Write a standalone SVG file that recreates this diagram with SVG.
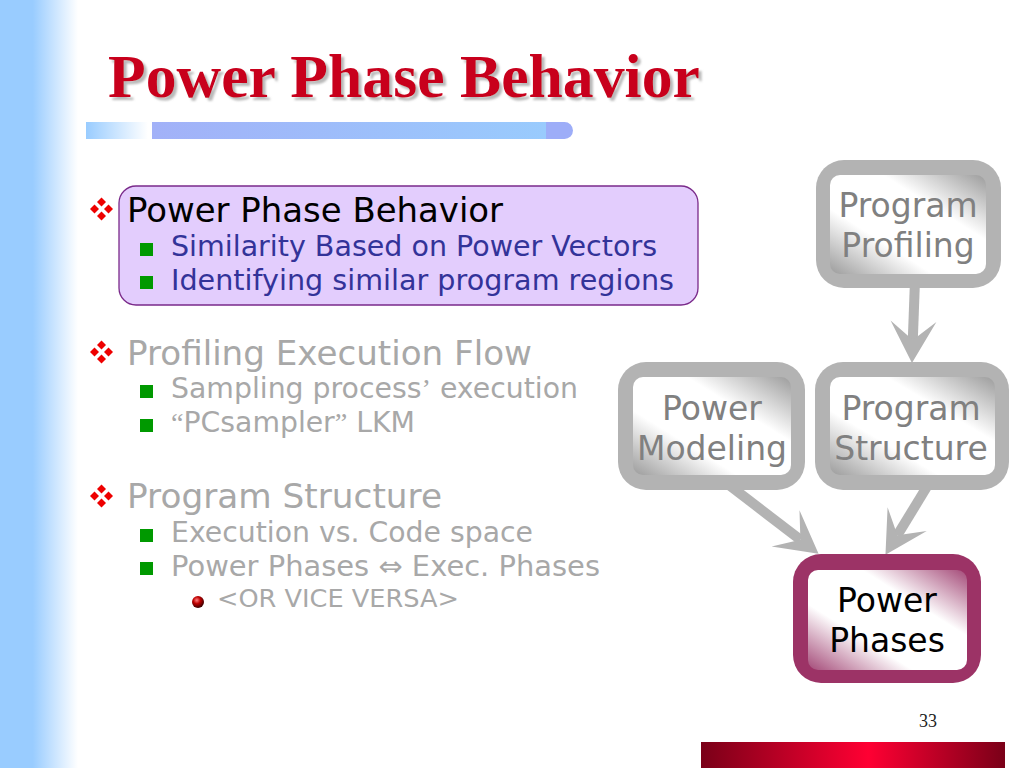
<svg xmlns="http://www.w3.org/2000/svg" width="1024" height="768" viewBox="0 0 1024 768">
<style>
.t1{font-family:"DejaVu Sans","Verdana",sans-serif;font-size:34px}
.t2{font-family:"DejaVu Sans","Verdana",sans-serif;font-size:28px}
.t3{font-family:"DejaVu Sans","Verdana",sans-serif;font-size:25px}
.q{font-family:"Liberation Serif",serif}
.blk{fill:#000}
.blu{fill:#333399}
.gry{fill:#a8a8a8}
.nt{font-family:"DejaVu Sans","Verdana",sans-serif;font-size:33px;text-anchor:middle}
.sq{fill:#009900}
.conn{stroke:#b3b3b3;stroke-width:10;fill:none}
</style>
<defs>
<filter id="shadow" x="-5%" y="-20%" width="110%" height="140%">
<feOffset in="SourceAlpha" dx="3" dy="3" result="o"/>
<feGaussianBlur in="o" stdDeviation="0.8" result="b"/>
<feFlood flood-color="#8a8a8a" flood-opacity="0.6"/>
<feComposite in2="b" operator="in" result="s"/>
<feMerge><feMergeNode in="s"/><feMergeNode in="SourceGraphic"/></feMerge>
</filter>
<linearGradient id="leftBar" x1="0" y1="0" x2="1" y2="0">
<stop offset="0" stop-color="#99ccff"/>
<stop offset="0.42" stop-color="#99ccff"/>
<stop offset="1" stop-color="#ffffff"/>
</linearGradient>
<linearGradient id="barL" x1="0" y1="0" x2="1" y2="0">
<stop offset="0" stop-color="#99ccff"/>
<stop offset="1" stop-color="#ffffff"/>
</linearGradient>
<linearGradient id="barM" x1="0" y1="0" x2="1" y2="0">
<stop offset="0" stop-color="#a2b1f8"/>
<stop offset="1" stop-color="#99cbfd"/>
</linearGradient>
<linearGradient id="redBar" x1="0" y1="0" x2="1" y2="0">
<stop offset="0" stop-color="#7a0018"/>
<stop offset="0.55" stop-color="#ff0033"/>
<stop offset="1" stop-color="#7a0018"/>
</linearGradient>
<linearGradient id="grayIn" x1="1" y1="0" x2="0" y2="1">
<stop offset="0" stop-color="#9c9c9c"/>
<stop offset="0.33" stop-color="#ffffff"/>
<stop offset="0.67" stop-color="#ffffff"/>
<stop offset="1" stop-color="#9c9c9c"/>
</linearGradient>
<linearGradient id="magIn" x1="1" y1="0" x2="0" y2="1">
<stop offset="0" stop-color="#a44a78"/>
<stop offset="0.33" stop-color="#ffffff"/>
<stop offset="0.67" stop-color="#ffffff"/>
<stop offset="1" stop-color="#a44a78"/>
</linearGradient>
<radialGradient id="ball" cx="0.4" cy="0.35" r="0.65">
<stop offset="0" stop-color="#ff8080"/>
<stop offset="0.45" stop-color="#c00000"/>
<stop offset="1" stop-color="#3a0000"/>
</radialGradient>
<g id="dia" fill="#ee0000">
<path d="M0,-11.5 L4.5,-7 L0,-2.5 L-4.5,-7Z"/>
<path d="M0,2.5 L4.5,7 L0,11.5 L-4.5,7Z"/>
<path d="M-11.5,0 L-7,-4.5 L-2.5,0 L-7,4.5Z"/>
<path d="M2.5,0 L7,-4.5 L11.5,0 L7,4.5Z"/>
</g>
<marker id="stealth" markerUnits="userSpaceOnUse" orient="auto" markerWidth="50" markerHeight="50" viewBox="-42 -24 44 48" refX="-22" refY="0">
<path d="M0,0 L-40,-22 L-22,0 L-40,22Z" fill="#b3b3b3"/>
</marker>
</defs>

<!-- background decoration -->
<rect x="0" y="0" width="1024" height="768" fill="#ffffff"/>
<rect x="0" y="0" width="78" height="768" fill="url(#leftBar)"/>
<rect x="86" y="122" width="62" height="17" fill="url(#barL)"/>
<rect x="152" y="122" width="396" height="17" fill="url(#barM)"/>
<path d="M546,122 H564.5 A8.5,8.5 0 0 1 564.5,139 H546Z" fill="#9dadf8"/>
<rect x="701" y="742" width="304" height="26" fill="url(#redBar)"/>

<!-- title -->
<g id="title" font-family="Liberation Serif, serif" font-weight="bold" font-size="61">
<text x="108" y="97" fill="#c8001e" filter="url(#shadow)" textLength="592" lengthAdjust="spacingAndGlyphs">Power Phase Behavior</text>
</g>

<!-- bullet list -->
<g id="bullets">
<rect x="119" y="186" width="579" height="119" rx="17" fill="#e3cdfd" stroke="#7a2a8a" stroke-width="1.3"/>
<use href="#dia" x="101.5" y="209"/>
<text class="t1 blk" x="127" y="222" textLength="376" lengthAdjust="spacingAndGlyphs">Power Phase Behavior</text>
<rect class="sq" x="140" y="243" width="13" height="13"/>
<text class="t2 blu" x="171" y="256" textLength="486" lengthAdjust="spacingAndGlyphs">Similarity Based on Power Vectors</text>
<rect class="sq" x="140" y="276" width="13" height="13"/>
<text class="t2 blu" x="171" y="290" textLength="503" lengthAdjust="spacingAndGlyphs">Identifying similar program regions</text>

<use href="#dia" x="101.5" y="352"/>
<text class="t1 gry" x="127" y="365" textLength="405" lengthAdjust="spacingAndGlyphs">Profiling Execution Flow</text>
<rect class="sq" x="140" y="385" width="13" height="13"/>
<text class="t2 gry" x="171" y="398" textLength="407" lengthAdjust="spacingAndGlyphs">Sampling process<tspan class="q">’</tspan> execution</text>
<rect class="sq" x="140" y="419" width="13" height="13"/>
<text class="t2 gry" x="171" y="432" textLength="244" lengthAdjust="spacingAndGlyphs"><tspan class="q">“</tspan>PCsampler<tspan class="q">”</tspan> LKM</text>

<use href="#dia" x="101.5" y="496"/>
<text class="t1 gry" x="127" y="508" textLength="315" lengthAdjust="spacingAndGlyphs">Program Structure</text>
<rect class="sq" x="140" y="529" width="13" height="13"/>
<text class="t2 gry" x="171" y="542" textLength="362" lengthAdjust="spacingAndGlyphs">Execution vs. Code space</text>
<rect class="sq" x="140" y="562" width="13" height="13"/>
<text class="t2 gry" x="171" y="576" textLength="429" lengthAdjust="spacingAndGlyphs">Power Phases ⇔ Exec. Phases</text>
<circle cx="198" cy="602" r="6" fill="url(#ball)"/>
<text class="t3 gry" x="217" y="607" textLength="242" lengthAdjust="spacingAndGlyphs">&lt;OR VICE VERSA&gt;</text>
</g>

<!-- connectors -->
<g id="connectors">
<line class="conn" x1="915" y1="280" x2="912.8" y2="340" marker-end="url(#stealth)"/>
<line class="conn" x1="729" y1="485" x2="800.4" y2="539.8" marker-end="url(#stealth)"/>
<line class="conn" x1="928" y1="485" x2="897.4" y2="535.2" marker-end="url(#stealth)"/>
</g>

<!-- nodes -->
<g id="node-profiling">
<rect x="816" y="160" width="185" height="128" rx="28" fill="#b3b3b3"/>
<rect x="830" y="175" width="156" height="99" rx="10" fill="url(#grayIn)"/>
<text class="nt" x="908" y="217" fill="#808080">Program</text>
<text class="nt" x="908" y="257" fill="#808080">Profiling</text>
</g>
<g id="node-modeling">
<rect x="618" y="362" width="187" height="128" rx="28" fill="#b3b3b3"/>
<rect x="633" y="377" width="158" height="98" rx="10" fill="url(#grayIn)"/>
<text class="nt" x="712" y="420" fill="#808080">Power</text>
<text class="nt" x="712" y="460" fill="#808080">Modeling</text>
</g>
<g id="node-structure">
<rect x="815" y="362" width="194" height="128" rx="28" fill="#b3b3b3"/>
<rect x="830" y="377" width="165" height="98" rx="10" fill="url(#grayIn)"/>
<text class="nt" x="911" y="420" fill="#808080">Program</text>
<text class="nt" x="911" y="460" fill="#808080">Structure</text>
</g>
<g id="node-phases">
<rect x="793" y="554" width="188" height="129" rx="28" fill="#9c3366"/>
<rect x="808" y="570" width="159" height="100" rx="10" fill="url(#magIn)"/>
<text class="nt" x="887" y="612" fill="#000">Power</text>
<text class="nt" x="887" y="652" fill="#000">Phases</text>
</g>

<text x="928" y="727" font-family="Liberation Serif, serif" font-size="18" text-anchor="middle" fill="#222">33</text>
</svg>
